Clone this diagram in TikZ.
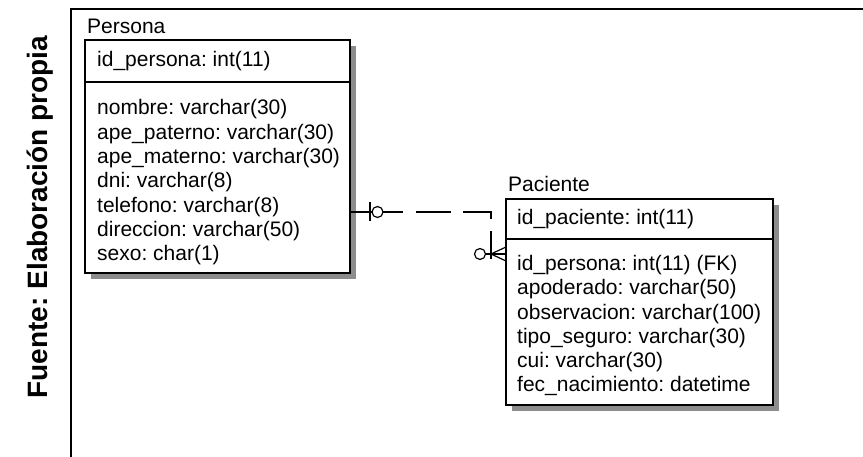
\documentclass[tikz,border=0pt]{standalone}
\usepackage{fontspec}
\setmainfont{Liberation Sans}
\usetikzlibrary{positioning}
\frenchspacing

\tikzset{
  entbox/.style={draw,line width=1.3pt,fill=white,anchor=north west,
    inner sep=0pt,outer sep=0pt},
  entshadow/.style={fill=black!45},
  entlabel/.style={anchor=base west,inner sep=0pt},
  attrtext/.style={anchor=north west,align=left,inner sep=0pt},
  relline/.style={line width=1.2pt,dash pattern=on 35pt off 12.5pt,
    dash phase=-18pt},
  relmark/.style={line width=1.2pt},
}

\begin{document}
\begin{tikzpicture}[x=1pt,y=-1pt,
    font=\fontsize{21}{24.3}\selectfont]
    \useasboundingbox (0,0) rectangle (863,457);

    \node[rotate=90,font=\fontsize{28}{30}\selectfont\bfseries]
        (fuente) at (40,217) {Fuente: Elaboración propia};
    \draw[line width=2.2pt] (71,457) -- (71,9) -- (863,9);

    % Persona
    \fill[entshadow] (91,46) rectangle (356,279);
    \node[entlabel] (persona-name) at (87,34) {Persona};
    \node[entbox,minimum width=265pt,minimum height=42pt]
        (persona-key) at (85,40) {};
    \node[entbox,minimum width=265pt,minimum height=191pt,
        below=0pt of persona-key.south west,anchor=north west]
        (persona-attrs) {};
    \node[entlabel] (persona-pk) at (97,67) {id\_persona: int(11)};
    \node[attrtext] (persona-cols)
        at ([xshift=12pt,yshift=-17.5pt]persona-attrs.north west)
        {nombre: varchar(30)\\ape\_paterno: varchar(30)\\
         ape\_materno: varchar(30)\\dni: varchar(8)\\
         telefono: varchar(8)\\direccion: varchar(50)\\sexo: char(1)};

    % Paciente
    \fill[entshadow] (512,205) rectangle (779,411);
    \node[entlabel] (paciente-name) at (508,192) {Paciente};
    \node[entbox,minimum width=267pt,minimum height=40pt]
        (paciente-key) at (506,199) {};
    \node[entbox,minimum width=267pt,minimum height=166pt,
        below=0pt of paciente-key.south west,anchor=north west]
        (paciente-attrs) {};
    \node[entlabel] (paciente-pk) at (517,225) {id\_paciente: int(11)};
    \node[attrtext] (paciente-cols)
        at ([xshift=11pt,yshift=-16pt]paciente-attrs.north west)
        {id\_persona: int(11) (FK)\\apoderado: varchar(50)\\
         observacion: varchar(100)\\tipo\_seguro: varchar(30)\\
         cui: varchar(30)\\fec\_nacimiento: datetime};

    % relacion
    \coordinate (persona-rel) at ([yshift=-34.5pt]persona-attrs.east);
    \coordinate (paciente-rel) at ([yshift=68pt]paciente-attrs.west);
    \draw[relline] (persona-rel) -| ([xshift=-15pt]paciente-rel)
        -- (paciente-rel);
    \draw[relmark] (persona-rel) -- ([xshift=53pt]persona-rel);
    \draw[relmark] ([xshift=20pt,yshift=10pt]persona-rel)
        -- ([xshift=20pt,yshift=-9pt]persona-rel);
    \draw[relmark,fill=white] ([xshift=27.5pt]persona-rel) circle (5.5pt);

    \draw[relmark] ([xshift=-15pt]paciente-rel) -- (paciente-rel);
    \draw[relmark] ([xshift=-15pt]paciente-rel)
        -- ([yshift=7pt]paciente-rel);
    \draw[relmark] ([xshift=-15pt]paciente-rel)
        -- ([yshift=-7pt]paciente-rel);
    \draw[relmark] ([xshift=-15pt]paciente-rel)
        -- ([xshift=-15pt,yshift=-5pt]paciente-rel);
    \draw[relmark] ([xshift=-20.5pt]paciente-rel)
        -- ([xshift=-15pt]paciente-rel);
    \draw[relmark,fill=white] ([xshift=-26pt]paciente-rel) circle (5.5pt);
\end{tikzpicture}
\end{document}
